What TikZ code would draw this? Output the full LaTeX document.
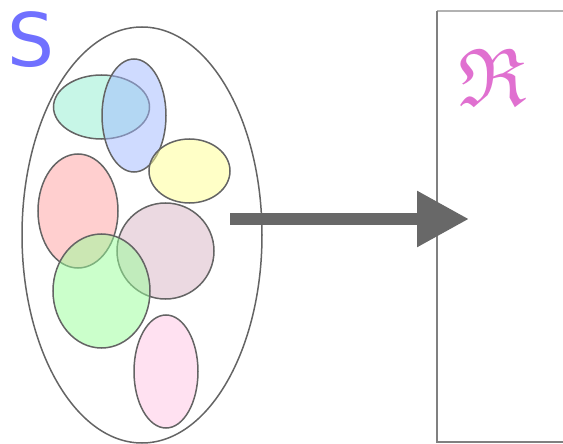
\documentclass[tikz,border=0pt]{standalone}
\usepackage{amssymb}
\usepackage{fontspec}
\newfontfamily\labelfont{DejaVu Sans}
\usepackage{tikz}
\usetikzlibrary{shapes.geometric, arrows.meta}

\definecolor{setblue}{HTML}{7070FF}
\definecolor{realpink}{HTML}{E070D0}
\definecolor{edgegray}{HTML}{646464}
\definecolor{arrowgray}{HTML}{686868}
\definecolor{aquafill}{HTML}{90EED0}
\definecolor{bluefill}{HTML}{A0B8FF}
\definecolor{yellowfill}{HTML}{FFFF90}
\definecolor{redfill}{HTML}{FFA0A0}
\definecolor{mauvefill}{HTML}{D8B4C4}
\definecolor{greenfill}{HTML}{98FF98}
\definecolor{pinkfill}{HTML}{FFC4E4}

\tikzset{
  blob/.style={ellipse, draw=edgegray, line width=1.5pt, inner sep=0pt, fill opacity=0.5},
}

\begin{document}
\begin{tikzpicture}[x=1pt, y=-1pt]
  \useasboundingbox (0,0) rectangle (563,444);
  % the set and its pieces
  \node[blob, fill=none, minimum width=240, minimum height=416] (domain) at (142,235) {};
  \node[blob, fill=aquafill, minimum width=96, minimum height=64] (cyanpart) at (101.5,107) {};
  \node[blob, fill=bluefill, minimum width=64, minimum height=113] (bluepart) at (134,115.5) {};
  \node[blob, fill=yellowfill, minimum width=81, minimum height=64] (yellowpart) at (189.5,171) {};
  \node[blob, fill=redfill, minimum width=80, minimum height=114] (redpart) at (78,211) {};
  \node[blob, fill=mauvefill, minimum width=97, minimum height=96] (mauvepart) at (165.5,251) {};
  \node[blob, fill=greenfill, minimum width=97, minimum height=114] (greenpart) at (101.5,291) {};
  \node[blob, fill=pinkfill, minimum width=64, minimum height=113] (pinkpart) at (166,371.5) {};
  \node[text=setblue, font=\labelfont\fontsize{74}{74}\selectfont, inner sep=0pt] (setlabel) at (30.5,39.5) {S};
  % the target
  \draw[gray!60, line width=1.2pt] (563,11) -- (437,11);
  \draw[gray, line width=1.2pt] (437,11) -- (437,442) -- (563,442);
  \node[text=realpink, font=\fontsize{82}{82}\selectfont, inner sep=0pt] (reallabel) at (492.5,77) {$\mathfrak{R}$};
  % the map
  \coordinate (mapstart) at (230,219);
  \coordinate (mapend) at (469,219);
  \draw[arrowgray, line width=12pt, -{Triangle[length=52pt, width=53pt]}] (mapstart) -- (mapend);
\end{tikzpicture}
\end{document}
